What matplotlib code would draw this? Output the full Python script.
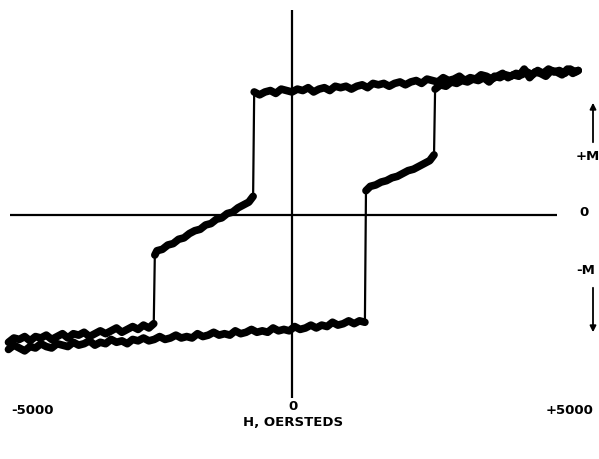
import matplotlib
matplotlib.use("Agg")
import matplotlib.pyplot as plt

# ---- data (H in oersteds, M in relative units) ----
# upper (descending-field) branch, positive plateau
H_a = [5300, 5200, 5100, 5000, 4900, 4800, 4700, 4600, 4500, 4400, 4300, 4200, 4100, 4000,
       3900, 3800, 3700, 3600, 3500, 3400, 3300, 3200, 3100, 3000, 2900, 2800, 2700, 2600,
       2500, 2400, 2300, 2200, 2100, 2000, 1900, 1800, 1700, 1600, 1500, 1400, 1300, 1200,
       1100, 1000, 900, 800, 700, 600, 500, 400, 300, 200, 100, 0, -100, -200, -300, -400,
       -500, -600, -700]
M_a = [1.01, 0.99, 1.02, 0.98, 1.00, 1.01, 0.97, 0.99, 1.00, 0.96, 1.02, 0.97, 0.98, 0.96,
       0.99, 0.97, 0.95, 0.97, 0.98, 0.95, 0.96, 0.94, 0.97, 0.95, 0.94, 0.96, 0.93, 0.94,
       0.95, 0.92, 0.94, 0.93, 0.91, 0.93, 0.92, 0.90, 0.92, 0.91, 0.92, 0.89, 0.91, 0.90,
       0.88, 0.90, 0.89, 0.90, 0.87, 0.89, 0.88, 0.86, 0.89, 0.87, 0.88, 0.86, 0.87, 0.88,
       0.85, 0.87, 0.86, 0.84, 0.86]
# upper branch, intermediate step
H_b = [-720, -800, -900, -1000, -1100, -1200, -1300, -1400, -1500, -1600, -1700, -1800,
       -1900, -2000, -2100, -2200, -2300, -2400, -2500, -2540]
M_b = [0.13, 0.09, 0.07, 0.05, 0.02, 0.01, -0.02, -0.03, -0.06, -0.07, -0.10, -0.11,
       -0.13, -0.16, -0.17, -0.20, -0.21, -0.24, -0.25, -0.28]
# upper branch, negative plateau
H_c = [-2560, -2650, -2750, -2850, -2950, -3050, -3150, -3250, -3350, -3450, -3550, -3650,
       -3750, -3850, -3950, -4050, -4150, -4250, -4350, -4450, -4550, -4650, -4750, -4850,
       -4950, -5050, -5150, -5250]
M_c = [-0.76, -0.79, -0.77, -0.80, -0.78, -0.80, -0.82, -0.79, -0.81, -0.83, -0.81, -0.83,
       -0.85, -0.82, -0.84, -0.83, -0.86, -0.83, -0.85, -0.87, -0.84, -0.86, -0.85, -0.88,
       -0.85, -0.87, -0.86, -0.89]
# lower (ascending-field) branch, negative plateau
H_d = [-5250, -5150, -5050, -4950, -4850, -4750, -4650, -4550, -4450, -4350,
       -4250, -4150, -4050, -3950, -3850, -3750, -3650, -3550, -3450, -3350,
       -3250, -3150, -3050, -2950, -2850, -2750, -2650, -2550, -2450, -2350,
       -2250, -2150, -2050, -1950, -1850, -1750, -1650, -1550, -1450, -1350,
       -1250, -1150, -1050, -950, -850, -750, -650, -550, -450, -350,
       -250, -150, -50, 50, 150, 250, 350, 450, 550, 650,
       750, 850, 950, 1050, 1150, 1250, 1350]
M_d = [-0.94, -0.91, -0.93, -0.95, -0.92, -0.93, -0.90, -0.92, -0.93, -0.90,
       -0.91, -0.92, -0.89, -0.91, -0.90, -0.88, -0.91, -0.89, -0.90, -0.87,
       -0.89, -0.88, -0.90, -0.87, -0.88, -0.86, -0.88, -0.87, -0.85, -0.87,
       -0.86, -0.84, -0.86, -0.85, -0.86, -0.83, -0.85, -0.84, -0.82, -0.84,
       -0.83, -0.84, -0.81, -0.83, -0.82, -0.80, -0.82, -0.81, -0.82, -0.79,
       -0.81, -0.80, -0.81, -0.78, -0.80, -0.79, -0.77, -0.79, -0.77, -0.78,
       -0.75, -0.77, -0.76, -0.74, -0.76, -0.74, -0.75]
# lower branch, intermediate step
H_e = [1370, 1450, 1550, 1650, 1750, 1850, 1950, 2050, 2150, 2250, 2350, 2450, 2550, 2630]
M_e = [0.17, 0.20, 0.21, 0.23, 0.24, 0.26, 0.27, 0.29, 0.31, 0.32, 0.34, 0.36, 0.38, 0.42]
# lower branch, positive plateau
H_f = [2650, 2750, 2850, 2950, 3050, 3150, 3250, 3350, 3450, 3550, 3650, 3750, 3850, 3950,
       4050, 4150, 4250, 4350, 4450, 4550, 4650, 4750, 4850, 4950, 5050, 5150, 5250, 5300]
M_f = [0.88, 0.91, 0.90, 0.93, 0.92, 0.94, 0.93, 0.95, 0.94, 0.96, 0.93, 0.97, 0.96, 0.98,
       0.97, 0.99, 0.98, 1.00, 0.98, 1.01, 0.99, 1.02, 1.00, 1.01, 0.99, 1.02, 1.00, 1.01]

x_tick_labels = ["-5000", "0", "+5000"]
x_title = "H, OERSTEDS"
y_labels = ["+M", "0", "-M"]

# ---- figure ----
W, Hpx = 599, 459
fig = plt.figure(figsize=(W / 100, Hpx / 100), dpi=100)
ax = fig.add_axes([0, 0, 1, 1])
ax.set_xlim(-5407, 5685)
ax.set_ylim(-1.706, 1.503)
ax.axis("off")

lw_axis = 1.6
ax.plot([-5222, 4907], [0, 0], color="black", lw=lw_axis, solid_capstyle="butt")
ax.plot([0, 0], [-1.28, 1.434], color="black", lw=lw_axis, solid_capstyle="butt")

segments = [(H_a, M_a), (H_b, M_b), (H_c, M_c), (H_d, M_d), (H_e, M_e), (H_f, M_f)]
for hh, mm in segments:
    ax.plot(hh, mm, color="black", lw=5.5, solid_joinstyle="round", solid_capstyle="round")

# thin vertical switching jumps between consecutive segments of each branch
for (h1, m1), (h2, m2) in [((H_a, M_a), (H_b, M_b)), ((H_b, M_b), (H_c, M_c)),
                           ((H_d, M_d), (H_e, M_e)), ((H_e, M_e), (H_f, M_f))]:
    ax.plot([h1[-1], h2[0]], [m1[-1], m2[0]], color="black", lw=1.6)

def fx(px):
    return px / W

def fy(py):
    return 1 - py / Hpx

tkw = dict(fontsize=9.5, fontweight="bold", family="DejaVu Sans", color="black")
fig.text(fx(32), fy(410), x_tick_labels[0], ha="center", va="center", **tkw)
fig.text(fx(293), fy(407), x_tick_labels[1], ha="center", va="center", **tkw)
fig.text(fx(570), fy(410), x_tick_labels[2], ha="center", va="center", **tkw)
fig.text(fx(293), fy(422), x_title, ha="center", va="center", **tkw)

fig.text(fx(576), fy(157), y_labels[0], ha="left", va="center", **tkw)
fig.text(fx(579), fy(213), y_labels[1], ha="left", va="center", **tkw)
fig.text(fx(576), fy(270), y_labels[2], ha="left", va="center", **tkw)

arrow_kw = dict(arrowstyle="-|>", color="black", lw=1.3, mutation_scale=9)
ax.annotate("", xy=(fx(593), fy(100)), xytext=(fx(593), fy(145)),
            xycoords="figure fraction", textcoords="figure fraction", arrowprops=arrow_kw)
ax.annotate("", xy=(fx(593), fy(335)), xytext=(fx(593), fy(285)),
            xycoords="figure fraction", textcoords="figure fraction", arrowprops=arrow_kw)

fig.savefig("out.png", dpi=100, facecolor="white")
